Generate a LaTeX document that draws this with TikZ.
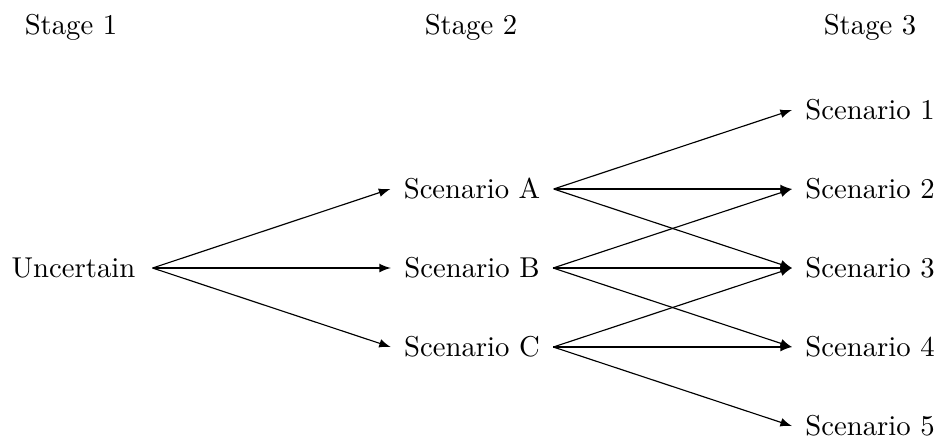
\documentclass[tikz,border=0pt]{standalone}
\begin{document}
\begin{tikzpicture}[x=0.3484pt,y=-0.3484pt,
  lbl/.style={inner ysep=3.33pt, inner xsep=4.5pt},
  arr/.style={-latex, line width=0.4pt}]
\useasboundingbox (0,0) rectangle (938,439);
% stage headers
\node[lbl] (st1) at (71,27) {Stage 1};
\node[lbl] (st2) at (471,27) {Stage 2};
\node[lbl] (st3) at (870,27) {Stage 3};
% nodes
\node[lbl, inner xsep=5.8pt] (U) at (73.5,268) {Uncertain};
\node[lbl] (A) at (472,189) {Scenario A};
\node[lbl] (B) at (472,268) {Scenario B};
\node[lbl] (C) at (472,347) {Scenario C};
\node[lbl] (s1) at (870,110) {Scenario 1};
\node[lbl] (s2) at (870,189) {Scenario 2};
\node[lbl] (s3) at (870,268) {Scenario 3};
\node[lbl] (s4) at (870,347) {Scenario 4};
\node[lbl] (s5) at (870,426) {Scenario 5};
% connectors
\draw[arr] (U.east) -- (A.west);
\draw[arr] (U.east) -- (B.west);
\draw[arr] (U.east) -- (C.west);
\draw[arr] (A.east) -- (s1.west);
\draw[arr] (A.east) -- (s2.west);
\draw[arr] (A.east) -- (s3.west);
\draw[arr] (B.east) -- (s2.west);
\draw[arr] (B.east) -- (s3.west);
\draw[arr] (B.east) -- (s4.west);
\draw[arr] (C.east) -- (s3.west);
\draw[arr] (C.east) -- (s4.west);
\draw[arr] (C.east) -- (s5.west);
\end{tikzpicture}
\end{document}
